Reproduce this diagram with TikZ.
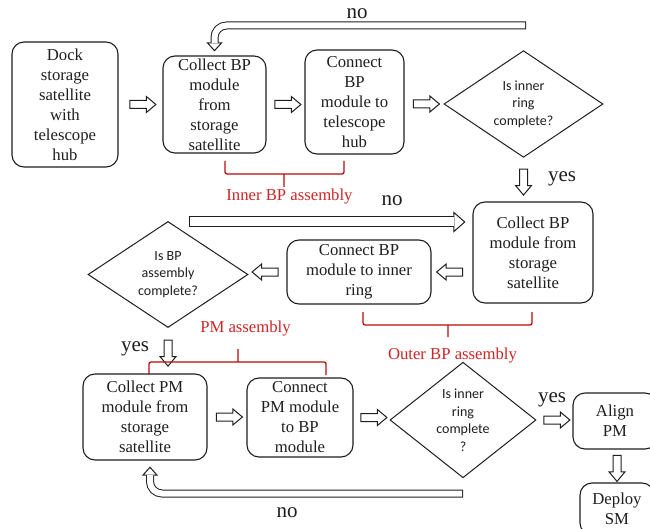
\documentclass[tikz,border=0pt]{standalone}
\usepackage{fontspec}
\setmainfont{Liberation Serif}
\newfontfamily\qfont{Carlito}
\usetikzlibrary{shapes.geometric,shapes.arrows,arrows.meta}
\definecolor{ink}{RGB}{30,30,30}
\definecolor{group red}{RGB}{205,38,38}
\definecolor{brace red}{RGB}{185,10,10}
\begin{document}
\begin{tikzpicture}[x=1pt,y=-1pt,
        task node/.style={rectangle,rounded corners=12pt,draw=ink,line width=1.1pt,text=ink,align=center,inner sep=0pt,font=\fontsize{16.7}{20}\selectfont},
        check node/.style={diamond,draw=ink,line width=1pt,text=ink,align=center,inner sep=0pt,font=\qfont\fontsize{14}{17.5}\selectfont,execute at begin node={\rule{0pt}{17pt}}},
        block arrow/.style={single arrow,draw=ink,fill=white,line width=1pt,inner sep=0pt,inner ysep=3.5pt,minimum height=26pt,minimum width=15pt,single arrow head extend=4pt,single arrow tip angle=80,sloped,allow upside down},
        hollow thin/.style={draw=ink,line width=8pt,rounded corners=12pt,-{Triangle[open,length=9pt,width=16pt,line width=1pt,fill=white]},postaction={draw=white,line width=6pt,-,shorten >=8.4pt,shorten <=1pt}},
        hollow wide/.style={draw=ink,line width=11pt,-{Triangle[open,length=12pt,width=21pt,line width=1pt,fill=white]},postaction={draw=white,line width=9pt,-,shorten >=11.4pt,shorten <=1pt}},
        brace line/.style={draw=brace red,line width=1.3pt,rounded corners=2pt},
        group label/.style={text=group red,font=\fontsize{16.7}{20}\selectfont},
        answer/.style={text=ink,font=\fontsize{21}{24}\selectfont}]
            \clip (0,0) rectangle (650,529);

            \node[task node,minimum width=106pt,minimum height=125pt] (dock) at (65,104.5) {Dock\\storage\\satellite\\with\\telescope\\hub};
            \node[task node,minimum width=103pt,minimum height=97pt] (col1) at (214.5,104.5) {Collect BP\\module\\from\\storage\\satellite};
            \node[task node,minimum width=99pt,minimum height=104pt] (con1) at (354.5,102) {Connect\\BP\\module to\\telescope\\hub};
            \node[check node,minimum width=159pt,minimum height=102pt] (dia1) at (523.5,104) {Is inner\\ring\\complete?};

            \node[task node,minimum width=120pt,minimum height=101pt] (col2) at (533,252.5) {Collect BP\\module from\\storage\\satellite};
            \node[task node,minimum width=144pt,minimum height=64pt] (con2) at (359,272) {Connect BP\\module to inner\\ring};
            \node[check node,minimum width=160pt,minimum height=103pt] (dia2) at (168,274.5) {Is BP\\assembly\\complete?};

            \node[task node,minimum width=124pt,minimum height=86pt] (col3) at (145,417) {Collect PM\\module from\\storage\\satellite};
            \node[task node,minimum width=106pt,minimum height=79pt] (con3) at (300,417.5) {Connect\\PM module\\to BP\\module};
            \node[check node,minimum width=146pt,minimum height=104pt] (dia3) at (463,420) {Is inner\\ring\\complete\\?};
            \node[task node,minimum width=84pt,minimum height=56pt] (align) at (615,421) {Align\\PM};
            \node[task node,minimum width=74pt,minimum height=52pt] (deploy) at (617,509) {Deploy\\SM};

            \path (dock) -- node[block arrow] {} (col1)
                (col1.east) -- node[block arrow] {} (col1.east -| con1.west)
                (con1.east |- dia1) -- node[block arrow] {} (dia1.west)
                (dia1.south) -- node[block arrow] {} (dia1.south |- col2.north)
                (col2.west |- con2) -- node[block arrow] {} (con2.east)
                (con2.west) -- node[block arrow] {} (con2.west -| dia2.east)
                (dia2.south) -- node[block arrow] {} (dia2.south |- col3.north)
                (col3.east) -- node[block arrow] {} (col3.east -| con3.west)
                (con3.east) -- node[block arrow] {} (con3.east -| dia3.west)
                (dia3.east) -- node[block arrow] {} (dia3.east -| align.west)
                (deploy.north |- align.south) -- node[block arrow] {} (deploy.north);

            \coordinate (back1) at (526,25.5);
            \coordinate (skip2) at (189,222);
            \coordinate (back3) at (463,493.5);
            \draw[hollow thin] (back1) -- (col1.north |- back1) -- ([yshift=4pt]col1.north);
            \draw[hollow wide] (skip2) -- ([xshift=-7pt]col2.west |- skip2);
            \draw[hollow thin] (back3) -- ([xshift=5pt]col3.south |- back3) -- ([shift={(5pt,-6pt)}]col3.south);

            \node[answer] (no1) at (357,14) {no};
            \node[answer] (no2) at (392,201) {no};
            \node[answer] (no3) at (287,513) {no};
            \node[answer] (yes1) at (562,179) {yes};
            \node[answer] (yes2) at (135,349) {yes};
            \node[answer] (yes3) at (552,400) {yes};

            \draw[brace line] (225,161) -- (225,174) -- (344,174) -- (344,161) (284,174) -- (284,187);
            \draw[brace line] (363,312) -- (363,325) -- (532,325) -- (532,312) (448,325) -- (448,337);
            \draw[brace line] (149,374) -- (149,362) -- (326,362) -- (326,375) (238,362) -- (238,349);
            \node[group label] (inner) at (289.5,197) {Inner BP assembly};
            \node[group label] (outer) at (452.5,356) {Outer BP assembly};
            \node[group label] (pm) at (245.5,329) {PM assembly};
        \end{tikzpicture}
\end{document}
